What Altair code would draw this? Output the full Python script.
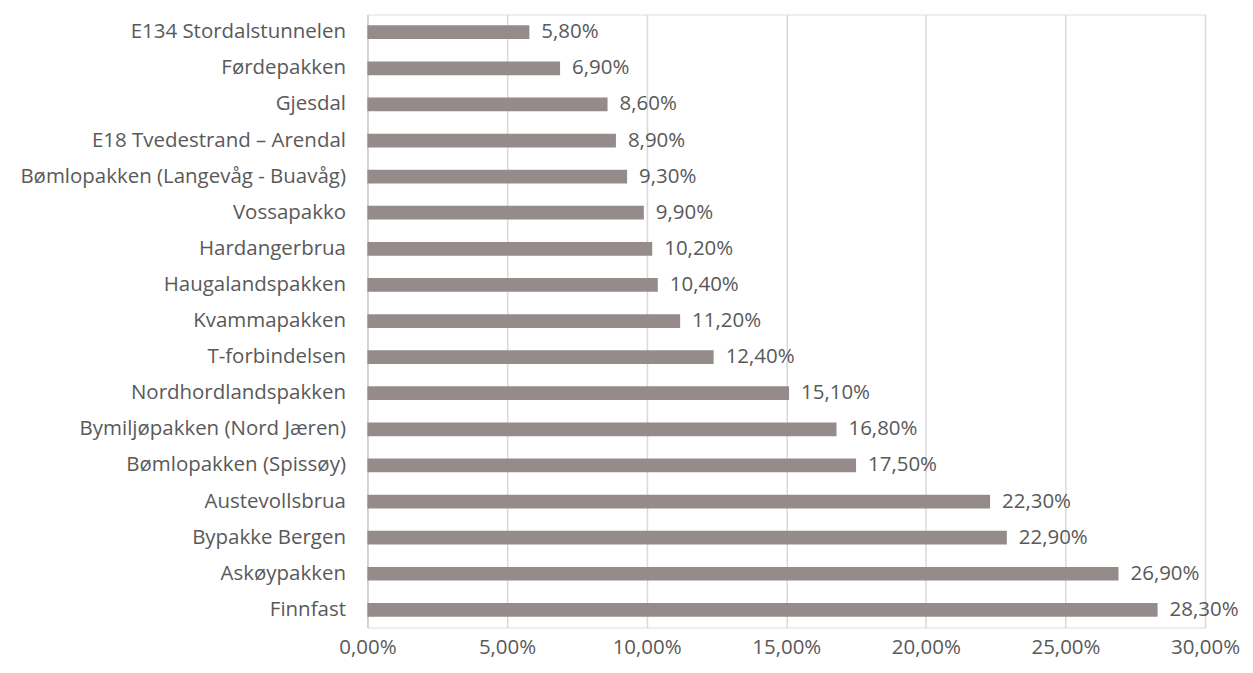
import altair as alt
import pandas as pd

projects = [
    "E134 Stordalstunnelen",
    "Førdepakken",
    "Gjesdal",
    "E18 Tvedestrand – Arendal",
    "Bømlopakken (Langevåg - Buavåg)",
    "Vossapakko",
    "Hardangerbrua",
    "Haugalandspakken",
    "Kvammapakken",
    "T-forbindelsen",
    "Nordhordlandspakken",
    "Bymiljøpakken (Nord Jæren)",
    "Bømlopakken (Spissøy)",
    "Austevollsbrua ",
    "Bypakke Bergen",
    "Askøypakken",
    "Finnfast",
]
shares = [0.058, 0.069, 0.086, 0.089, 0.093, 0.099, 0.102, 0.104, 0.112,
          0.124, 0.151, 0.168, 0.175, 0.223, 0.229, 0.269, 0.283]
x_ticks = [0.0, 0.05, 0.10, 0.15, 0.20, 0.25, 0.30]

df = pd.DataFrame({"project": projects, "share": shares})

FONT = "Open Sans"
TXT = "#595959"
FS = 20.5

y_enc = alt.Y(
    "project:N", sort=projects, title=None,
    scale=alt.Scale(paddingInner=0.62, paddingOuter=0.3),
    axis=alt.Axis(labelFontSize=FS, labelColor=TXT, labelFont=FONT,
                  labelPadding=22, ticks=False, domain=True,
                  domainColor="#d0d0d0", domainWidth=1.5, grid=False,
                  labelLimit=400),
)
x_enc = alt.X(
    "share:Q", title=None,
    scale=alt.Scale(domain=[0, 0.30], nice=False),
    axis=alt.Axis(values=x_ticks, labelExpr="replace(format(datum.value, '.2%'), '.', ',')",
                  labelFontSize=FS, labelColor=TXT, labelFont=FONT,
                  labelPadding=10, ticks=False, domain=False, labelFlush=False,
                  labelOverlap=False, labelBound=False,
                  grid=True, gridColor="#d9d9d9", gridWidth=1.5),
)

bars = alt.Chart(df).mark_bar(color="#958B8A").encode(x=x_enc, y=y_enc)

labels = alt.Chart(df).transform_calculate(
    lbl="replace(format(datum.share, '.2%'), '.', ',')"
).mark_text(align="left", baseline="middle", dx=12, fontSize=FS,
            color=TXT, font=FONT).encode(
    x=alt.X("share:Q"), y=alt.Y("project:N", sort=projects), text="lbl:N"
)

chart = alt.layer(bars, labels).properties(
    width=839, height=614,
    autosize=alt.AutoSizeParams(type="none"),
    padding={"left": 360, "top": 6, "right": 40, "bottom": 37},
).configure_view(stroke=None).configure(background="white")

chart.save("out.html", embed_options={"renderer": "svg", "actions": False})
